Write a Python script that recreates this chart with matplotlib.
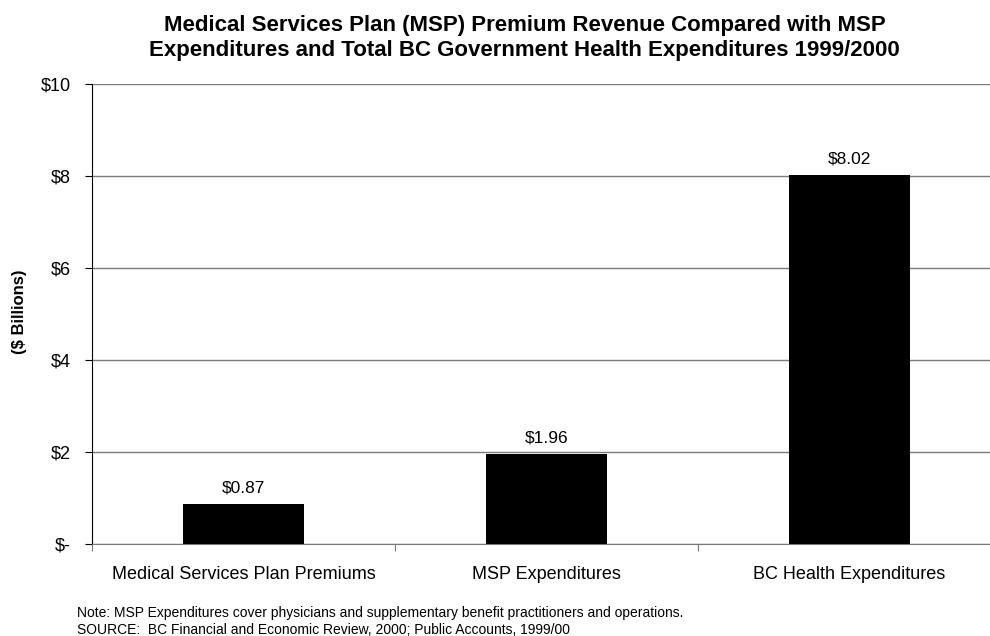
import matplotlib
matplotlib.use("Agg")
import matplotlib.pyplot as plt

categories = ["Medical Services Plan Premiums", "MSP Expenditures", "BC Health Expenditures"]
values = [0.87, 1.96, 8.02]
value_labels = ["$0.87", "$1.96", "$8.02"]
y_ticks = [0, 2, 4, 6, 8, 10]
y_tick_labels = ["$-", "$2", "$4", "$6", "$8", "$10"]

plt.rcParams["font.family"] = ["Liberation Sans", "DejaVu Sans"]

fig = plt.figure(figsize=(9.9, 6.36), dpi=100)
ax = fig.add_axes([0.0929, 0.1447, 0.918, 0.7233])

x = range(len(categories))
ax.bar(x, values, width=0.4, color="black", zorder=3)
for i, v in enumerate(values):
    ax.annotate(value_labels[i], (i, v), xytext=(0, 6), textcoords="offset points",
                ha="center", va="bottom", fontsize=12.5)

ax.set_xlim(-0.5, 2.5)
ax.set_ylim(0, 10)
ax.set_yticks(y_ticks)
ax.set_yticklabels(y_tick_labels, fontsize=13)
ax.yaxis.grid(True, color="#7a7a7a", linewidth=1, zorder=0)

ax.set_xticks([-0.5, 0.5, 1.5])
ax.set_xticklabels([])
ax.set_xticks(list(x), minor=True)
ax.set_xticklabels(categories, minor=True, fontsize=13)
ax.tick_params(axis="x", which="minor", length=0, pad=16)
ax.tick_params(axis="x", which="major", length=5, color="#7a7a7a")
ax.tick_params(axis="y", length=5, pad=10)

for s in ["top", "right"]:
    ax.spines[s].set_visible(False)
ax.spines["bottom"].set_color("#7a7a7a")
ax.spines["left"].set_color("black")

fig.text(0.02, 0.51, "($ Billions)", rotation=90, ha="center", va="center",
         fontsize=12, fontweight="bold")

fig.text(0.53, 0.941,
         "Medical Services Plan (MSP) Premium Revenue Compared with MSP\n"
         "Expenditures and Total BC Government Health Expenditures 1999/2000",
         ha="center", va="center", fontsize=16, fontweight="bold", linespacing=1.25)

fig.text(0.078, 0.0362,
         "Note: MSP Expenditures cover physicians and supplementary benefit practitioners and operations.",
         fontsize=10, va="center")
fig.text(0.078, 0.0094,
         "SOURCE:  BC Financial and Economic Review, 2000; Public Accounts, 1999/00",
         fontsize=10, va="center")

fig.savefig("out.png", dpi=100)
